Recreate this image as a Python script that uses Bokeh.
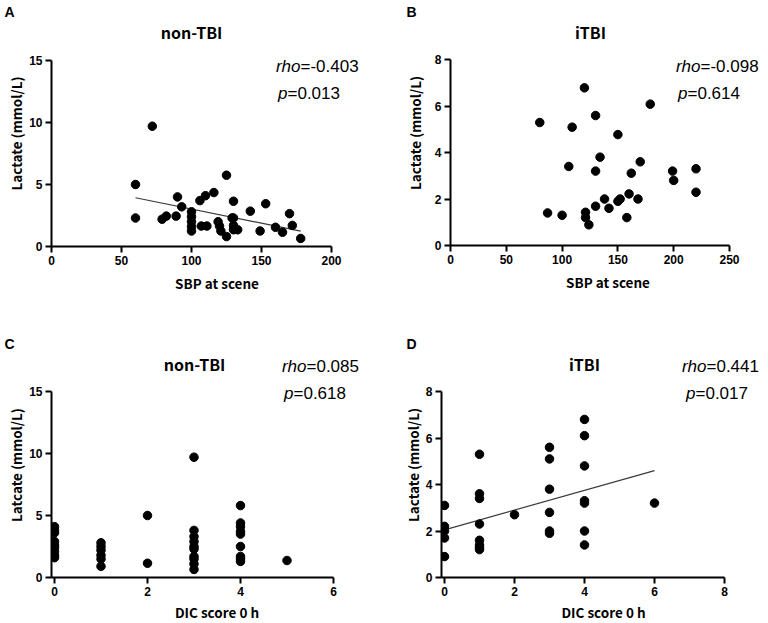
from bokeh.plotting import figure
from bokeh.models import Range1d, Label, FixedTicker, Title
from bokeh.layouts import column, row
from bokeh.embed import file_html
from bokeh.resources import INLINE

# ---------------- data ----------------
# A: non-TBI, SBP at scene vs lactate
sbp_nontbi = [60, 60, 72, 79, 82, 89, 90, 93, 100, 100, 100, 100, 100, 106, 107, 110, 111,
              116, 119, 120, 121, 125, 125, 129, 130, 130, 130, 130, 133, 142, 149, 153, 160,
              165, 170, 172, 178]
lac_nontbi_sbp = [5.0, 2.3, 9.7, 2.2, 2.45, 2.45, 4.0, 3.2, 2.8, 2.4, 2.0, 1.6, 1.25, 3.7, 1.65,
                  4.1, 1.65, 4.35, 2.0, 1.65, 1.25, 5.75, 0.8, 2.3, 3.65, 2.3, 1.7, 1.35, 1.35,
                  2.85, 1.25, 3.45, 1.55, 1.15, 2.65, 1.7, 0.65]
fit_a_x = [60, 178]
fit_a_y = [3.93, 1.24]

# B: iTBI, SBP at scene vs lactate
sbp_itbi = [80, 87, 100, 106, 109, 120, 121, 121, 124, 130, 130, 130, 134, 138, 142, 150, 150,
            152, 158, 160, 162, 168, 170, 179, 199, 200, 220, 220]
lac_itbi_sbp = [5.29, 1.4, 1.3, 3.4, 5.09, 6.78, 1.43, 1.2, 0.89, 5.59, 3.2, 1.69, 3.8, 2.0, 1.6,
                4.77, 1.9, 2.0, 1.2, 2.22, 3.11, 2.0, 3.6, 6.08, 3.2, 2.8, 3.3, 2.29]

# C: non-TBI, DIC score 0 h vs lactate
dic_nontbi = [0, 0, 0, 0, 0, 0, 0, 0, 0,
              1, 1, 1, 1, 1, 1,
              2, 2,
              3, 3, 3, 3, 3, 3, 3, 3, 3, 3,
              4, 4, 4, 4, 4, 4, 4, 4, 4,
              5]
lac_nontbi_dic = [4.1, 3.8, 3.6, 2.9, 2.6, 2.4, 2.1, 1.8, 1.6,
                  2.8, 2.5, 2.2, 1.8, 1.5, 0.9,
                  5.0, 1.15,
                  9.7, 3.8, 3.3, 2.9, 2.5, 2.3, 1.7, 1.5, 1.1, 0.65,
                  5.8, 4.4, 4.1, 3.7, 3.5, 2.5, 1.7, 1.5, 1.3,
                  1.37]

# D: iTBI, DIC score 0 h vs lactate
dic_itbi = [0, 0, 0, 0, 0,
            1, 1, 1, 1, 1, 1, 1, 1,
            2,
            3, 3, 3, 3, 3, 3,
            4, 4, 4, 4, 4, 4, 4,
            6]
lac_itbi_dic = [3.1, 2.2, 2.0, 1.7, 0.9,
                5.3, 3.6, 3.4, 2.3, 1.6, 1.4, 1.3, 1.2,
                2.7,
                5.6, 5.1, 3.8, 2.8, 2.0, 1.9,
                6.8, 6.1, 4.8, 3.3, 3.2, 2.0, 1.4,
                3.2]
fit_d_x = [0, 6]
fit_d_y = [2.05, 4.6]

stats = {
    "A": ("-0.403", "0.013"),
    "B": ("-0.098", "0.614"),
    "C": ("0.085", "0.618"),
    "D": ("0.441", "0.017"),
}

TICK_FONT = "Liberation Sans"
LABEL_FONT = "Noto Sans CJK JP"
NUM_FONT = "Liberation Sans"


def make_panel(letter, fig_box, origin, scale, x_max, y_max, pad, frame_top, frame_right,
               letter_x, xticks, yticks, x, y, title, title_pos, xlabel, ylabel,
               stat_pos, ylab_standoff, xlab_standoff, fit=None):
    fl, ft, fw, fh = fig_box
    ox, oy = origin
    sx, sy = scale
    frame_left = ox - pad
    frame_w = frame_right - frame_left
    frame_h = oy - frame_top
    b_left = frame_left - fl
    b_top = frame_top - ft
    b_right = fw - b_left - frame_w
    b_bottom = fh - b_top - frame_h
    x0 = -pad / sx

    p = figure(frame_width=frame_w, frame_height=frame_h,
               min_border_left=b_left, min_border_right=b_right,
               min_border_top=b_top, min_border_bottom=b_bottom,
               x_range=Range1d(x0, (frame_right - ox) / sx),
               y_range=Range1d(0, (oy - frame_top) / sy),
               output_backend="svg", toolbar_location=None,
               title=Title(text=letter, align="left", offset=letter_x - frame_left,
                           standoff=2, text_font=NUM_FONT, text_font_style="bold",
                           text_font_size="14px", text_color="black"))
    p.grid.visible = False
    p.outline_line_color = None
    p.background_fill_color = "white"
    p.border_fill_color = "white"

    for ax in (p.xaxis[0], p.yaxis[0]):
        ax.axis_line_width = 2
        ax.axis_line_color = "black"
        ax.major_tick_line_width = 2
        ax.major_tick_line_color = "black"
        ax.major_tick_out = 6
        ax.major_tick_in = 0
        ax.minor_tick_line_color = None
        ax.major_label_text_font = TICK_FONT
        ax.major_label_text_font_style = "bold"
        ax.major_label_text_font_size = "12px"
        ax.major_label_text_color = "black"
        ax.axis_label_text_font = LABEL_FONT
        ax.axis_label_text_font_style = "bold"
        ax.axis_label_text_font_size = "13.5px"
        ax.axis_label_text_color = "black"
        ax.major_label_standoff = 3
    p.xaxis[0].ticker = FixedTicker(ticks=xticks)
    p.yaxis[0].ticker = FixedTicker(ticks=yticks)
    p.xaxis[0].bounds = (x0, x_max)
    p.yaxis[0].bounds = (0, y_max)
    p.xaxis[0].axis_label = xlabel
    p.yaxis[0].axis_label = ylabel
    p.xaxis[0].axis_label_standoff = xlab_standoff
    p.yaxis[0].axis_label_standoff = ylab_standoff

    if fit is not None:
        p.line(fit[0], fit[1], line_color="#3a3a3a", line_width=1.2)
    p.scatter(x, y, size=8.5, fill_color="black", line_color="black")

    def to_data(px, py):
        return (px - ox) / sx, (oy - py) / sy

    # panel title (inside the extended frame)
    tx, ty = to_data(*title_pos)
    p.add_layout(Label(x=tx, y=ty, text=title, text_font=LABEL_FONT, text_font_style="bold",
                       text_font_size="16px", text_align="center",
                       text_baseline="alphabetic", text_color="black"))
    # rho / p annotation
    rho_v, p_v = stats[letter]
    (rx, ry), (qx, qy) = stat_pos
    for (ex, by), it, rest in (((rx, ry), "rho", "=" + rho_v), ((qx, qy), "p", "=" + p_v)):
        dx, dy = to_data(ex, by)
        p.add_layout(Label(x=dx, y=dy, text=it, text_font=NUM_FONT, text_font_style="italic",
                           text_font_size="17px", text_align="right",
                           text_baseline="alphabetic", text_color="black"))
        p.add_layout(Label(x=dx, y=dy, text=rest, text_font=NUM_FONT,
                           text_font_size="17px", text_align="left",
                           text_baseline="alphabetic", text_color="black"))
    return p


pa = make_panel("A", (0, 0, 384, 300), (51, 246), (1.4, 12.4), 200, 15, 0, 20, 382, 4,
                [0, 50, 100, 150, 200], [0, 5, 10, 15],
                sbp_nontbi, lac_nontbi_sbp, "non-TBI", (191, 31),
                "SBP at scene", "Lactate (mmol/L)",
                ((300, 66), (287, 93)), 0, 5, fit=(fit_a_x, fit_a_y))
pb = make_panel("B", (384, 0, 384, 300), (450, 245), (279 / 250, 23.25), 250, 8, 0, 20, 765, 406,
                [0, 50, 100, 150, 200, 250], [0, 2, 4, 6, 8],
                sbp_itbi, lac_itbi_sbp, "iTBI", (590, 31),
                "SBP at scene", "Lactate (mmol/L)",
                ((700, 66), (687, 93)), 7, 5)
pc = make_panel("C", (0, 300, 384, 323), (54, 577), (46.5, 12.4), 6, 15, 3, 352, 382, 4,
                [0, 2, 4, 6], [0, 5, 10, 15],
                dic_nontbi, lac_nontbi_dic, "non-TBI", (194, 363),
                "DIC score 0 h", "Latcate (mmol/L)",
                ((306, 366), (293, 393)), 0, 3)
pd_ = make_panel("D", (384, 300, 384, 323), (444, 577), (35, 23.25), 8, 8, 3, 352, 765, 406,
                 [0, 2, 4, 6, 8], [0, 2, 4, 6, 8],
                 dic_itbi, lac_itbi_dic, "iTBI", (584, 363),
                 "DIC score 0 h", "Lactate (mmol/L)",
                 ((706, 366), (695, 393)), 0, 3, fit=(fit_d_x, fit_d_y))

layout = column(row(pa, pb), row(pc, pd_))

open("out.html", "w").write(file_html(layout, INLINE))
